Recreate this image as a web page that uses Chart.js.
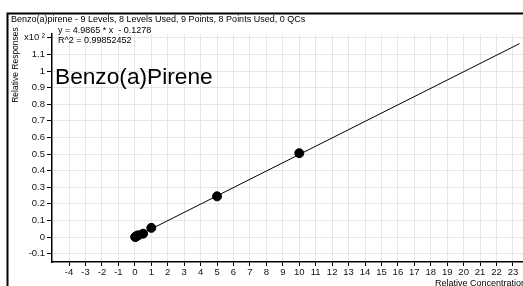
<!DOCTYPE html>
<html>
<head>
<meta charset="utf-8">
<script src="https://cdn.jsdelivr.net/npm/chart.js@4"></script>
<style>
  html, body { margin: 0; padding: 0; background: #fff; }
</style>
</head>
<body>
<canvas id="calChart" width="523" height="286"></canvas>
<script>
// calibration points (x = relative concentration, y = relative response x10^2)
const concentrations = [0.02, 0.05, 0.1, 0.2, 0.5, 1, 5, 10];
const responses = [0.0, 0.002, 0.005, 0.01, 0.02, 0.055, 0.245, 0.505];
// fitted line end points
const fitX = [0, 23.4];
const fitY = [-0.0013, 1.165];
const xTicks = [-4, -3, -2, -1, 0, 1, 2, 3, 4, 5, 6, 7, 8, 9, 10, 11, 12, 13, 14, 15, 16, 17, 18, 19, 20, 21, 22, 23];
const yTicks = [-0.1, 0, 0.1, 0.2, 0.3, 0.4, 0.5, 0.6, 0.7, 0.8, 0.9, 1, 1.1, 1.2];

const titleText = 'Benzo(a)pirene - 9 Levels, 8 Levels Used, 9 Points, 8 Points Used, 0 QCs';
const eqText = 'y = 4.9865 * x  - 0.1278';
const r2Text = 'R^2 = 0.99852452';
const compoundText = 'Benzo(a)Pirene';

const FONT = 'Arial, "Liberation Sans", sans-serif';

const decor = {
  id: 'decor',
  afterDraw(chart) {
    const c = chart.ctx;
    c.save();
    // frame
    c.strokeStyle = '#000';
    c.lineWidth = 2;
    c.beginPath();
    c.moveTo(7.5, 286);
    c.lineTo(7.5, 13.5);
    c.lineTo(523, 13.5);
    c.stroke();

    c.fillStyle = '#000';
    c.textBaseline = 'middle';
    c.textAlign = 'left';
    c.font = '9px ' + FONT;
    c.fillText(titleText, 11, 20);
    c.fillText(eqText, 58, 31);
    c.fillText(r2Text, 58, 41);

    c.font = '22.7px ' + FONT;
    c.fillText(compoundText, 55, 78);

    c.font = '9px ' + FONT;
    c.fillText('Relative Concentration', 435, 284);

    c.font = '8.5px ' + FONT;
    c.translate(16, 65);
    c.rotate(-Math.PI / 2);
    c.textAlign = 'center';
    c.fillText('Relative Responses', 0, 0);
    c.restore();
  }
};

const noPad = (s) => { s.paddingLeft = 0; s.paddingRight = 0; s.paddingTop = 0; s.paddingBottom = 0; };

new Chart(document.getElementById('calChart'), {
  type: 'scatter',
  data: {
    datasets: [{
      data: concentrations.map((x, i) => ({ x: x, y: responses[i] })),
      backgroundColor: '#000',
      borderColor: '#000',
      pointRadius: 4.5,
      pointHoverRadius: 4.5
    }, {
      type: 'line',
      data: fitX.map((x, i) => ({ x: x, y: fitY[i] })),
      borderColor: '#000',
      borderWidth: 1,
      pointRadius: 0,
      fill: false
    }]
  },
  plugins: [decor],
  options: {
    responsive: false,
    animation: false,
    events: [],
    layout: { autoPadding: false, padding: { top: 34, right: 0, left: 0, bottom: 0 } },
    plugins: {
      legend: { display: false },
      tooltip: { enabled: false }
    },
    scales: {
      x: {
        type: 'linear',
        min: -5.04,
        max: 23.61,
        afterBuildTicks: (s) => { s.ticks = xTicks.map(v => ({ value: v })); },
        afterFit: (s) => { s.height = 24; noPad(s); },
        border: { color: '#000', width: 1.5 },
        grid: { color: '#e6e6e6', tickColor: '#000', tickLength: 4, lineWidth: 1 },
        ticks: {
          color: '#111',
          font: { size: 9.5, family: FONT },
          padding: 1,
          maxRotation: 0,
          autoSkip: false
        }
      },
      y: {
        min: -0.1506,
        max: 1.2229,
        afterBuildTicks: (s) => { s.ticks = yTicks.map(v => ({ value: v })); },
        afterFit: (s) => { s.width = 52; noPad(s); },
        border: { color: '#000', width: 1.5 },
        grid: { color: '#e6e6e6', tickColor: '#000', tickLength: 5, lineWidth: 1 },
        ticks: {
          color: '#111',
          font: { size: 9.5, family: FONT },
          padding: 2,
          autoSkip: false,
          callback: (v) => v === 1.2 ? 'x10 ²' : String(v)
        }
      }
    }
  }
});
</script>
</body>
</html>
